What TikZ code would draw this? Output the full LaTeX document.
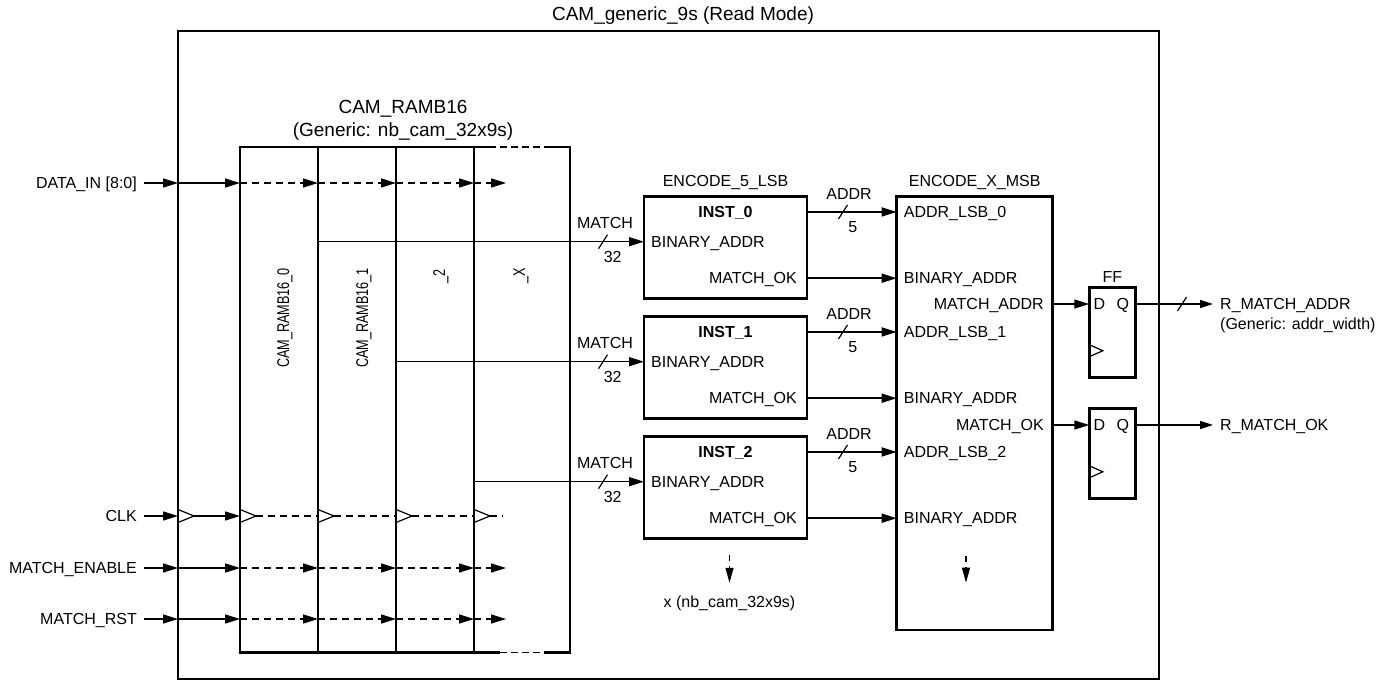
\documentclass[tikz,border=0pt]{standalone}
\usepackage{fontspec}
\setmainfont{Liberation Sans}
\usetikzlibrary{arrows.meta,positioning,calc}

\newcommand{\pinfont}{\fontsize{16}{19}\selectfont}
\newcommand{\headfont}{\fontsize{19}{23}\selectfont}
\newcommand{\colfont}{\fontsize{17}{20}\selectfont}
\newcommand{\vtext}[1]{\scalebox{0.745}[1]{#1}}

\tikzset{
  blk/.style={draw, line width=2.8pt, inner sep=0pt, outer sep=0pt},
  plab/.style={font=\pinfont, inner sep=0pt, text height=11.5pt, text depth=0pt},
  hdlab/.style={font=\headfont, inner sep=0pt, text height=13.6pt, text depth=0pt},
  vlab/.style={font=\colfont, inner sep=0pt, rotate=90, text height=12.2pt, text depth=0pt},
  sig/.style={line width=1.5pt, -{Triangle[length=15pt,width=9pt]}},
  dsig/.style={sig, dash pattern=on 7pt off 5pt},
  dline/.style={line width=1.5pt, dash pattern=on 7pt off 5pt},
  osig/.style={line width=1.2pt, -{Triangle[length=13pt,width=8pt]}},
  darr/.style={line width=1.4pt, dash pattern=on 6pt off 5pt, -{Triangle[length=15pt,width=8pt]}},
  busmark/.style={line width=1.2pt},
  clkmark/.style={line width=1.2pt}
}

\begin{document}
\begin{tikzpicture}[x=1pt, y=-1pt]
  \useasboundingbox (0,0) rectangle (1393,683);
  \node[blk, minimum width=981pt, minimum height=648pt] (outer) at (668.5,355) {};
  \node[hdlab] (title) at (683,14) {CAM\_generic\_9s (Read Mode)};

  % CAM_RAMB16 columns
  \foreach \n/\x in {ram0/279, ram1/357, ram2/435}
    \node[blk, minimum width=78pt, minimum height=505.5pt] (\n) at (\x,399.75) {};
  \node[inner sep=0pt, outer sep=0pt, minimum width=96pt, minimum height=505.5pt] (ramx) at (522,399.75) {};
  \draw[line width=2.8pt] ([xshift=15pt]ramx.north west) -- (ramx.north west) -- (ramx.south west) -- ([xshift=26pt]ramx.south west);
  \draw[line width=2.8pt] ([xshift=-26pt]ramx.north east) -- (ramx.north east) -- (ramx.south east) -- ([xshift=-26pt]ramx.south east);
  \draw[line width=1.6pt, dash pattern=on 7pt off 4pt] ([xshift=15pt]ramx.north west) -- ([xshift=-26pt]ramx.north east);
  \draw[line width=1.6pt, dash pattern=on 7pt off 4pt] ([xshift=26pt]ramx.south west) -- ([xshift=-26pt]ramx.south east);
  \node[hdlab] (ramhead) at (403,107) {CAM\_RAMB16};
  \node[hdlab, below=9pt of ramhead] (ramgen) {(Generic: nb\_cam\_32x9s)};
  \node[vlab] (v0) at (283,318) {\vtext{CAM\_RAMB16\_0}};
  \node[vlab] (v1) at (362,318) {\vtext{CAM\_RAMB16\_1}};
  \node[vlab] (v2) at (439,276) {\vtext{\_2}};
  \node[vlab] (vx) at (519,276) {\vtext{\_X}};

  % inputs
  \node[plab, anchor=east] (din) at (137,183) {DATA\_IN [8:0]};
  \node[plab, anchor=east] (clk) at (137,516) {CLK};
  \node[plab, anchor=east] (men) at (137,568) {MATCH\_ENABLE};
  \node[plab, anchor=east] (mrst) at (137,619) {MATCH\_RST};
  \coordinate (xend) at (506,0);
  \coordinate (cend) at (503,0);
  \foreach \s in {din,men,mrst} {
    \draw[sig] ([xshift=7pt]\s.east) -- (\s -| outer.west);
    \draw[sig] (\s -| outer.west) -- (\s -| ram0.west);
    \draw[dsig] (\s -| ram0.west) -- (\s -| ram1.west);
    \draw[dsig] (\s -| ram1.west) -- (\s -| ram2.west);
    \draw[dsig] (\s -| ram2.west) -- (\s -| ramx.west);
    \draw[dsig] (\s -| ramx.west) -- (\s -| xend);
  }
  \foreach \b/\k in {outer/k0, ram0/k1, ram1/k2, ram2/k3, ramx/k4}
    \coordinate (\k) at (clk -| \b.west);
  \draw[sig] ([xshift=7pt]clk.east) -- (k0);
  \foreach \k in {k0,k1,k2,k3,k4}
    \draw[clkmark] ([yshift=6.5pt]\k) -- ([xshift=16pt]\k) -- ([yshift=-6.5pt]\k);
  \draw[sig] ([xshift=16pt]k0) -- (k1);
  \foreach \a/\b in {k1/k2, k2/k3, k3/k4}
    \draw[dline] ([xshift=16pt]\a) -- (\b);
  \draw[dline] ([xshift=16pt]k4) -- (k4 -| cend);

  % ENCODE_5_LSB instances
  \foreach \i/\y/\src in {0/196.7/ram0, 1/316.7/ram1, 2/436.7/ram2} {
    \node[blk, anchor=north west, minimum width=163pt, minimum height=101.5pt] (inst\i) at (644,\y) {};
    \node[plab, font=\pinfont\bfseries, below=9.3pt of inst\i.north] (iname\i) {INST\_\i};
    \node[plab, anchor=west] (ibin\i) at ([xshift=7pt,yshift=-45pt]inst\i.north west) {BINARY\_ADDR};
    \node[plab, anchor=east] (iok\i) at ([xshift=-10pt,yshift=-81.5pt]inst\i.north east) {MATCH\_OK};
    \draw[sig] (ibin\i -| \src.east) -- (ibin\i -| inst\i.west);
    \draw[busmark] ($(ibin\i -| inst\i.west)+(-45.5,7)$) -- ($(ibin\i -| inst\i.west)+(-36.5,-7)$);
    \node[plab] (mlab\i) at ($(ibin\i -| inst\i.west)+(-39,-18.7)$) {MATCH};
    \node[plab] (mw\i) at ($(ibin\i -| inst\i.west)+(-31.3,15.3)$) {32};
  }
  \node[plab, above=10pt of inst0.north] (lsbname) {ENCODE\_5\_LSB};

  % ENCODE_X_MSB
  \node[blk, anchor=north west, minimum width=156pt, minimum height=433.3pt] (msb) at (896.7,196.7) {};
  \node[plab, above=10pt of msb.north] (msbname) {ENCODE\_X\_MSB};
  \foreach \i in {0,1,2} {
    \path (iname\i -| msb.west) ++(7,0) node[plab, anchor=west] (mlsb\i) {ADDR\_LSB\_\i};
    \path (iok\i -| msb.west) ++(7,0) node[plab, anchor=west] (mbin\i) {BINARY\_ADDR};
    \draw[sig] (iname\i -| inst\i.east) -- (iname\i -| msb.west);
    \draw[busmark] ($(iname\i -| inst\i.east)+(31.5,7)$) -- ($(iname\i -| inst\i.east)+(40.5,-7)$);
    \node[plab] (alab\i) at ($(iname\i -| inst\i.east)+(42,-18.7)$) {ADDR};
    \node[plab] (aw\i) at ($(iname\i -| inst\i.east)+(45.7,15)$) {5};
    \draw[sig] (iok\i -| inst\i.east) -- (iok\i -| msb.west);
  }
  \node[plab, anchor=east] (mad) at (1044,304) {MATCH\_ADDR};
  \node[plab, anchor=east] (mok) at (1044,425) {MATCH\_OK};

  % output flip-flops
  \foreach \f/\y in {ff1/287.7, ff2/408.8}
    \node[blk, anchor=north west, minimum width=46pt, minimum height=89.6pt] (\f) at (1089.3,\y) {};
  \node[plab, above=5pt of ff1.north] (fflab) {FF};
  \foreach \f/\s in {ff1/mad, ff2/mok} {
    \path (\s -| \f.west) ++(10,0) node[plab] (d\f) {D};
    \path (\s -| \f.east) ++(-12.5,0) node[plab] (q\f) {Q};
    \coordinate (c\f) at ($(\f.north west)+(0,63)$);
    \draw[clkmark] ([yshift=6pt]c\f) -- ([xshift=13.5pt]c\f) -- ([yshift=-6pt]c\f);
    \draw[sig] (\s -| msb.east) -- (\s -| \f.west);
  }
  \node[plab, anchor=west] (rma) at (1220,304) {R\_MATCH\_ADDR};
  \node[plab, below=8pt of rma.south west, anchor=north west] (rgen) {(Generic: addr\_width)};
  \path (mok -| rma.west) node[plab, anchor=west] (rmok) {R\_MATCH\_OK};
  \draw[osig] (mad -| ff1.east) -- ([xshift=-7pt]rma.west);
  \draw[busmark] ($(mad -| ff1.east)+(42.2,7)$) -- ($(mad -| ff1.east)+(51.2,-7)$);
  \draw[osig] (mok -| ff2.east) -- ([xshift=-7pt]rmok.west);

  % repeated instances
  \node[plab] (xlab) at (729.5,601.7) {x (nb\_cam\_32x9s)};
  \coordinate (xdn) at (729.5,555);
  \draw[darr] (xdn) -- ([yshift=13pt]xlab.north);
  \coordinate (mdn) at (966,555.7);
  \coordinate (mdnend) at (966,582.7);
  \draw[darr] (mdn) -- (mdnend);
\end{tikzpicture}
\end{document}
